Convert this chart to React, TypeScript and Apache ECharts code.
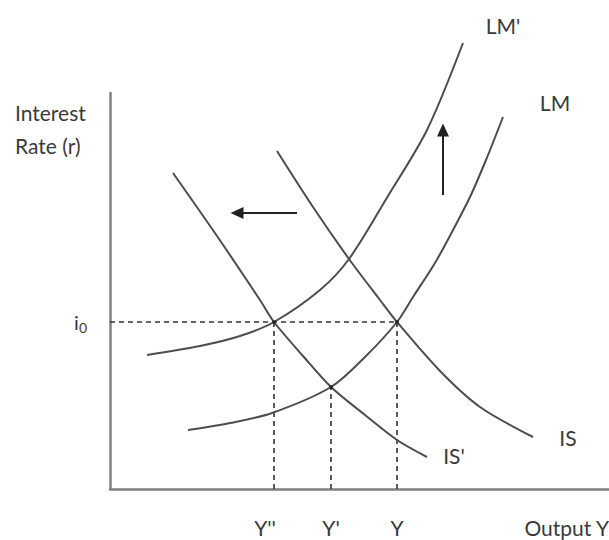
import React, { useEffect, useRef } from "react";
import * as echarts from "echarts";

// Values (output on x, interest rate on y, arbitrary units)
const lmPrimeCurve = [[37, 134], [90, 143], [130, 153], [164, 167], [210, 199], [239, 230], [278, 293], [317, 359], [353, 446]];
const lmCurve = [[78, 59], [120, 66], [162, 76], [221, 102], [255, 132], [287, 167], [303, 192], [325, 226], [343, 259], [360, 292], [376, 329], [393, 372]];
const isCurve = [[167, 338], [203, 282], [239, 230], [270, 189], [287, 167], [330, 118], [370, 82], [423, 52]];
const isPrimeCurve = [[63, 316], [107, 253], [150, 189], [164, 167], [193, 133], [221, 102], [255, 74], [287, 49], [317, 32]];

const outputTicks = [164, 221, 287];
const outputTickLabels = ["Y''", "Y'", "Y"];
const rateTicks = [167];
const rateTickLabels = [["i", "0"]];

const equilibria = [[164, 167], [287, 167], [221, 102]];
const leftArrow = [[187, 276], [127, 276]];
const upArrow = [[333, 294], [333, 359]];

const FONT = "Lato, 'Open Sans', 'DejaVu Sans', sans-serif";
const TEXT = "#3a3a3a";
const CURVE = "#4d4d4d";

export default function App() {
  const ref = useRef<HTMLDivElement>(null);

  useEffect(() => {
    if (!ref.current) return;
    const chart = echarts.init(ref.current, undefined, { renderer: "svg" });

    const curveSeries = (name: string, data: number[][]) => ({
      name,
      type: "line",
      data,
      smooth: 0.3,
      symbol: "none",
      clip: false,
      lineStyle: { color: CURVE, width: 2 },
      z: 3,
    });

    const dashed = (data: number[][]) => ({
      type: "line",
      data,
      symbol: "none",
      clip: false,
      lineStyle: { color: "#333", width: 1.6, type: [5, 4] },
      z: 2,
    });

    const tickLabelMap: Record<number, string> = {};
    outputTicks.forEach((v, i) => (tickLabelMap[v] = outputTickLabels[i]));
    const rateLabelMap: Record<number, string[]> = {};
    rateTicks.forEach((v, i) => (rateLabelMap[v] = rateTickLabels[i]));

    const A = equilibria[0];
    const B = equilibria[1];
    const C = equilibria[2];

    chart.setOption({
      animation: false,
      grid: { left: 110, right: 0, top: 93, bottom: 51 },
      xAxis: {
        type: "value",
        min: 0,
        max: 499,
        splitLine: { show: false },
        axisTick: { show: false },
        axisLine: { show: true, lineStyle: { color: "#808080", width: 2.5 } },
        axisLabel: {
          customValues: outputTicks,
          formatter: (v: number) =>
            v === outputTicks[0] ? "{a|" + tickLabelMap[v] + "}" : tickLabelMap[v] ?? "",
          margin: 28,
          color: TEXT,
          fontFamily: FONT,
          fontSize: 21,
          rich: { a: { color: TEXT, fontFamily: FONT, fontSize: 21, padding: [0, 18, 0, 0] } },
        },
      },
      yAxis: {
        type: "value",
        min: 0,
        max: 396,
        splitLine: { show: false },
        axisTick: { show: false },
        axisLine: { show: true, lineStyle: { color: "#808080", width: 2.5 } },
        axisLabel: {
          customValues: rateTicks,
          formatter: (v: number) => {
            const p = rateLabelMap[v];
            return p ? "{i|" + p[0] + "}{s|" + p[1] + "}" : "";
          },
          margin: 23,
          color: TEXT,
          fontFamily: FONT,
          rich: {
            i: { color: TEXT, fontFamily: FONT, fontSize: 20, lineHeight: 24, verticalAlign: "middle" },
            s: { color: TEXT, fontFamily: FONT, fontSize: 14, lineHeight: 14, verticalAlign: "bottom" },
          },
        },
      },
      series: [
        dashed([[0, A[1]], B]),
        dashed([[A[0], 0], A]),
        dashed([[C[0], 0], C]),
        dashed([[B[0], 0], B]),
        curveSeries("LM'", lmPrimeCurve),
        curveSeries("LM", lmCurve),
        curveSeries("IS", isCurve),
        curveSeries("IS'", isPrimeCurve),
        {
          type: "scatter",
          data: equilibria,
          symbolSize: 4,
          itemStyle: { color: "#222" },
          z: 4,
        },
        {
          type: "line",
          data: [],
          markLine: {
            silent: true,
            symbol: ["none", "triangle"],
            symbolSize: [12, 13],
            label: { show: false },
            lineStyle: { color: "#222", width: 2, type: "solid" },
            data: [
              [{ coord: leftArrow[0] }, { coord: leftArrow[1] }],
              [{ coord: upArrow[0] }, { coord: upArrow[1] }],
            ],
          },
        },
      ],
      graphic: [
        { type: "text", x: 15, y: 112, style: { text: "Interest", font: `21px ${FONT}`, fill: TEXT, textAlign: "left", textVerticalAlign: "middle" } },
        { type: "text", x: 15, y: 145, style: { text: "Rate (r)", font: `21px ${FONT}`, fill: TEXT, textAlign: "left", textVerticalAlign: "middle" } },
        { type: "text", x: 503, y: 25, style: { text: "LM'", font: `21px ${FONT}`, fill: TEXT, textAlign: "center", textVerticalAlign: "middle" } },
        { type: "text", x: 555, y: 102, style: { text: "LM", font: `21px ${FONT}`, fill: TEXT, textAlign: "center", textVerticalAlign: "middle" } },
        { type: "text", x: 568, y: 437, style: { text: "IS", font: `21px ${FONT}`, fill: TEXT, textAlign: "center", textVerticalAlign: "middle" } },
        { type: "text", x: 454, y: 455, style: { text: "IS'", font: `21px ${FONT}`, fill: TEXT, textAlign: "center", textVerticalAlign: "middle" } },
        { type: "text", x: 609, y: 527, style: { text: "Output Y", font: `21px ${FONT}`, fill: TEXT, textAlign: "right", textVerticalAlign: "middle" } },
      ],
    });

    return () => chart.dispose();
  }, []);

  return (
    <div
      ref={ref}
      style={{ position: "absolute", left: 0, top: 0, width: 609, height: 540, background: "#fff" }}
    />
  );
}
